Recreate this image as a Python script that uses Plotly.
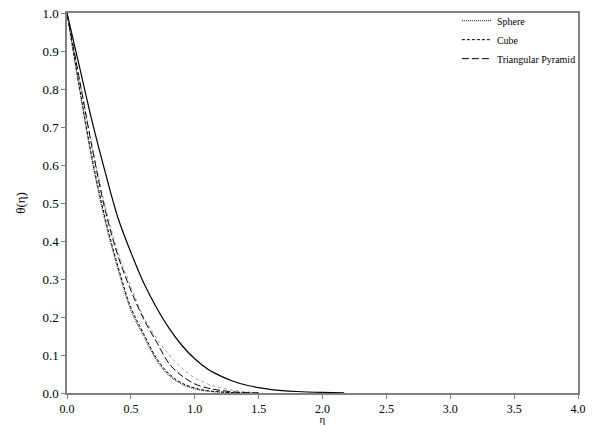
import plotly.graph_objects as go

eta = [0.0, 0.1, 0.2, 0.3, 0.4, 0.5, 0.6, 0.7, 0.8, 0.9, 1.0, 1.1, 1.2, 1.3, 1.4, 1.5]
eta_base = [0.0, 0.1, 0.2, 0.3, 0.4, 0.5, 0.6, 0.7, 0.8, 0.9, 1.0, 1.1, 1.2, 1.3, 1.4, 1.5,
            1.6, 1.8, 2.0, 2.17]

theta_base = [1.0, 0.855, 0.71, 0.58, 0.46, 0.37, 0.29, 0.225, 0.17, 0.125, 0.09, 0.063,
              0.045, 0.031, 0.021, 0.014, 0.009, 0.004, 0.0015, 0.0005]
theta_sphere = [1.0, 0.795, 0.605, 0.45, 0.325, 0.218, 0.15, 0.087, 0.046, 0.023, 0.011,
                0.005, 0.002, 0.001, 0.0, 0.0]
theta_cube = [1.0, 0.80, 0.612, 0.458, 0.332, 0.225, 0.156, 0.092, 0.05, 0.026, 0.013,
              0.006, 0.003, 0.001, 0.0, 0.0]
theta_pyramid = [1.0, 0.82, 0.64, 0.48, 0.36, 0.27, 0.195, 0.135, 0.077, 0.045, 0.024,
                 0.013, 0.007, 0.003, 0.001, 0.0]
theta_other = [1.0, 0.822, 0.645, 0.49, 0.37, 0.28, 0.2, 0.145, 0.1, 0.065, 0.04, 0.024,
               0.014, 0.007, 0.003, 0.001]

x_ticks = [0.0, 0.5, 1.0, 1.5, 2.0, 2.5, 3.0, 3.5, 4.0]
y_ticks = [0.0, 0.1, 0.2, 0.3, 0.4, 0.5, 0.6, 0.7, 0.8, 0.9, 1.0]

FONT = "Liberation Serif"

fig = go.Figure()
fig.add_trace(go.Scatter(x=eta_base, y=theta_base, mode="lines", showlegend=False,
                         line=dict(color="black", width=1.2, shape="spline")))
fig.add_trace(go.Scatter(x=eta, y=theta_other, mode="lines", showlegend=False,
                         line=dict(color="#9a9a9a", width=1, dash="dot", shape="spline")))
fig.add_trace(go.Scatter(x=eta, y=theta_sphere, mode="lines", name="Sphere",
                         line=dict(color="#444444", width=1.2, dash="1px,1px", shape="spline")))
fig.add_trace(go.Scatter(x=eta, y=theta_cube, mode="lines", name="Cube",
                         line=dict(color="black", width=1, dash="3px,2px", shape="spline")))
fig.add_trace(go.Scatter(x=eta, y=theta_pyramid, mode="lines", name="Triangular Pyramid",
                         line=dict(color="black", width=1, dash="7px,3px", shape="spline")))

axis_common = dict(
    showline=True, linecolor="#808080", linewidth=1.5, mirror=True,
    ticks="outside", ticklen=4, tickcolor="#808080", tickwidth=1,
    showgrid=False, zeroline=False,
    tickformat=".1f",
)

fig.update_xaxes(range=[0, 4], tickvals=x_ticks, automargin=False,
                 tickfont=dict(family=FONT, size=12, color="black"),
                 title=dict(text="η", font=dict(family=FONT, size=11, color="black"), standoff=7),
                 **axis_common)
fig.update_yaxes(range=[0, 1], tickvals=y_ticks, automargin=False,
                 tickfont=dict(family=FONT, size=13, color="black"),
                 title=dict(text="θ(η)", font=dict(family=FONT, size=13, color="black"), standoff=14),
                 **axis_common)

fig.update_layout(
    width=592, height=425,
    margin=dict(l=67, r=14, t=13, b=32, autoexpand=False),
    paper_bgcolor="white", plot_bgcolor="white",
    font=dict(family=FONT, size=12, color="black"),
    legend=dict(x=0.763, y=1.018, xanchor="left", yanchor="top",
                bgcolor="rgba(0,0,0,0)", borderwidth=0,
                font=dict(family=FONT, size=10, color="black"),
                tracegroupgap=0, itemwidth=30),
)

fig.write_html(
    "out.html",
    config={"responsive": False, "displayModeBar": False},
    post_script="document.body.style.margin='0';document.body.style.overflow='hidden';",
)
